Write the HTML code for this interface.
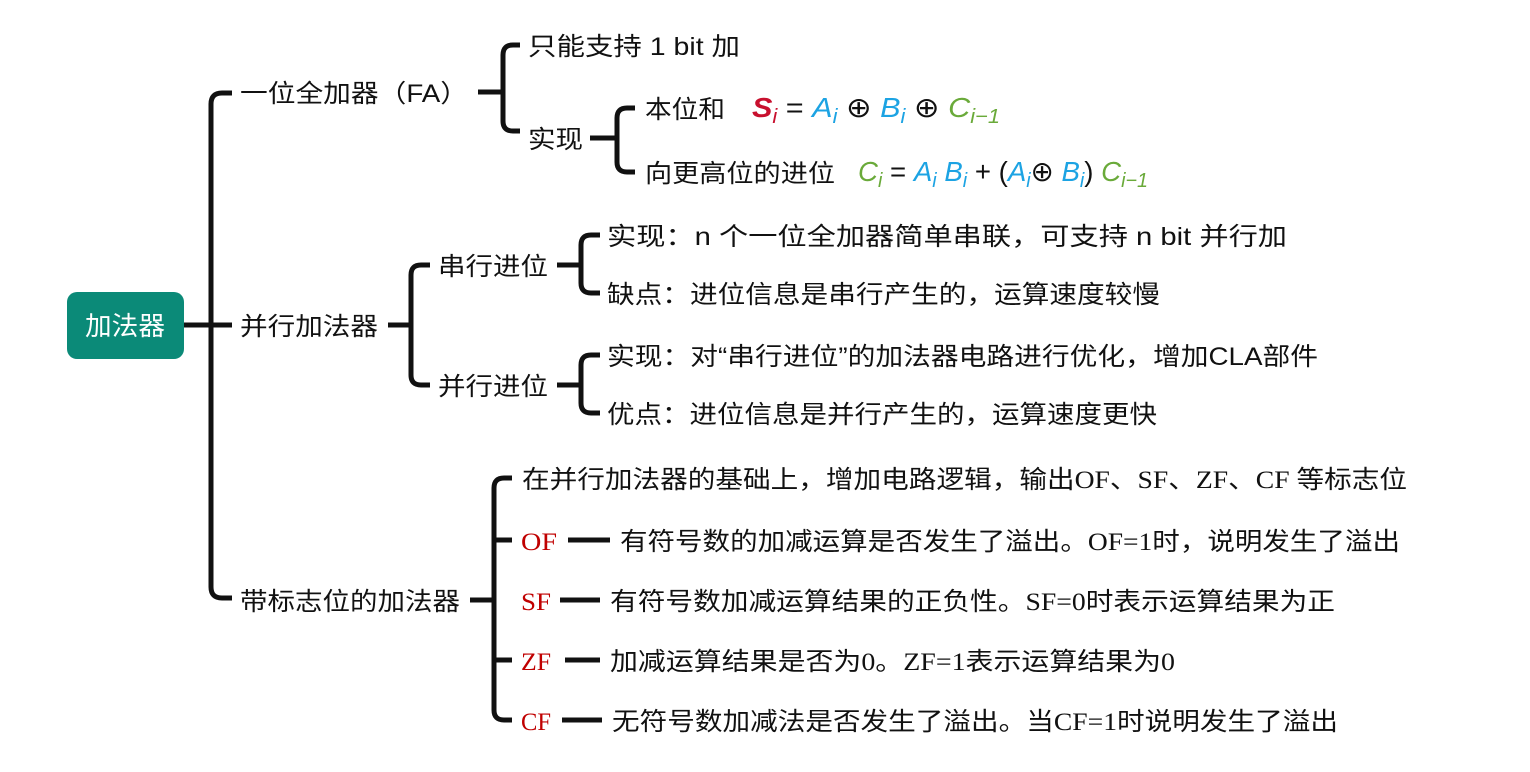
<!DOCTYPE html>
<html><head><meta charset="utf-8"><style>
html,body{margin:0;padding:0;background:#fff;width:1530px;height:772px;overflow:hidden}
svg{display:block}
text{font-family:"Liberation Serif","Noto Sans CJK SC",sans-serif;font-size:25px;fill:#111}
.c{font-family:"Liberation Sans","Noto Sans CJK SC",sans-serif}
.r{fill:#c00000}
.f{font-family:"Liberation Sans","DejaVu Sans",sans-serif;font-style:italic;font-size:28px}
.b{fill:#1ca3e3}.g{fill:#6aaa3a}.rd{fill:#c8102e}
</style></head><body>
<svg width="1530" height="772" viewBox="0 0 1530 772" xmlns="http://www.w3.org/2000/svg">
<g fill="none" stroke="#111" stroke-width="5" stroke-linecap="butt">
<path d="M184 325 H232"/>
<path d="M232 93 H222 Q211 93 211 104 V587 Q211 598 222 598 H232"/>
<path d="M478 92 H503"/>
<path d="M520 45 H513 Q503 45 503 55 V121 Q503 131 513 131 H520"/>
<path d="M590 138 H617"/>
<path d="M635 108 H627 Q617 108 617 118 V162 Q617 172 627 172 H635"/>
<path d="M388 325 H411"/>
<path d="M430 265 H421 Q411 265 411 275 V375 Q411 385 421 385 H430"/>
<path d="M557 265 H581"/>
<path d="M600 235 H591 Q581 235 581 245 V283 Q581 293 591 293 H600"/>
<path d="M557 385 H581"/>
<path d="M600 355 H591 Q581 355 581 365 V403 Q581 413 591 413 H600"/>
<path d="M470 600 H494"/>
<path d="M512 478 H504 Q494 478 494 488 V710 Q494 720 504 720 H512"/>
<path d="M494 540 H512"/>
<path d="M494 660 H512"/>
<path d="M568 540 H610"/><path d="M560 600 H600"/><path d="M565 660 H600"/><path d="M562 720 H602"/>
</g>
<rect x="67" y="292" width="117" height="67" rx="10" fill="#0b8a78"/>
<text class="c" x="85" y="335" style="fill:#fff;font-size:26px" textLength="80" lengthAdjust="spacingAndGlyphs">加法器</text>

<text class="c" x="240" y="102" textLength="228" lengthAdjust="spacingAndGlyphs">一位全加器（FA）</text>
<text class="c" x="240" y="335" textLength="138" lengthAdjust="spacingAndGlyphs">并行加法器</text>
<text class="c" x="240" y="610" textLength="220" lengthAdjust="spacingAndGlyphs">带标志位的加法器</text>

<text class="c" x="528" y="55" textLength="212" lengthAdjust="spacingAndGlyphs">只能支持 1 bit 加</text>
<text class="c" x="528" y="148" textLength="55" lengthAdjust="spacingAndGlyphs">实现</text>
<text class="c" x="645" y="118" textLength="80" lengthAdjust="spacingAndGlyphs">本位和</text>
<text class="c" x="645" y="182" textLength="190" lengthAdjust="spacingAndGlyphs">向更高位的进位</text>

<text class="f" x="752" y="117" textLength="248" lengthAdjust="spacingAndGlyphs"><tspan class="rd" font-weight="bold">S</tspan><tspan class="rd" font-size="20" dy="6">i</tspan><tspan dy="-6" style="font-style:normal" fill="#111"> = </tspan><tspan class="b">A</tspan><tspan class="b" font-size="20" dy="6">i</tspan><tspan dy="-6" style="font-style:normal" fill="#111"> ⊕ </tspan><tspan class="b">B</tspan><tspan class="b" font-size="20" dy="6">i</tspan><tspan dy="-6" style="font-style:normal" fill="#111"> ⊕ </tspan><tspan class="g">C</tspan><tspan class="g" font-size="20" dy="6">i−1</tspan></text>
<text class="f" x="858" y="181" textLength="290" lengthAdjust="spacingAndGlyphs"><tspan class="g">C</tspan><tspan class="g" font-size="20" dy="6">i</tspan><tspan dy="-6" style="font-style:normal" fill="#111"> = </tspan><tspan class="b">A</tspan><tspan class="b" font-size="20" dy="6">i</tspan><tspan dy="-6"> </tspan><tspan class="b">B</tspan><tspan class="b" font-size="20" dy="6">i</tspan><tspan dy="-6" style="font-style:normal" fill="#111"> + (</tspan><tspan class="b">A</tspan><tspan class="b" font-size="20" dy="6">i</tspan><tspan dy="-6" style="font-style:normal" fill="#111">⊕ </tspan><tspan class="b">B</tspan><tspan class="b" font-size="20" dy="6">i</tspan><tspan dy="-6" style="font-style:normal" fill="#111">) </tspan><tspan class="g">C</tspan><tspan class="g" font-size="20" dy="6">i−1</tspan></text>

<text class="c" x="438" y="275" textLength="110" lengthAdjust="spacingAndGlyphs">串行进位</text>
<text class="c" x="438" y="395" textLength="110" lengthAdjust="spacingAndGlyphs">并行进位</text>
<text class="c" x="607" y="245" textLength="680" lengthAdjust="spacingAndGlyphs">实现：n 个一位全加器简单串联，可支持 n bit 并行加</text>
<text class="c" x="607" y="303" textLength="553" lengthAdjust="spacingAndGlyphs">缺点：进位信息是串行产生的，运算速度较慢</text>
<text class="c" x="607" y="365" textLength="711" lengthAdjust="spacingAndGlyphs">实现：对“串行进位”的加法器电路进行优化，增加CLA部件</text>
<text class="c" x="607" y="423" textLength="550" lengthAdjust="spacingAndGlyphs">优点：进位信息是并行产生的，运算速度更快</text>

<text x="522" y="488" textLength="885" lengthAdjust="spacingAndGlyphs">在并行加法器的基础上，增加电路逻辑，输出OF、SF、ZF、CF 等标志位</text>
<text class="r" x="521" y="550" textLength="36" lengthAdjust="spacingAndGlyphs">OF</text>
<text class="r" x="521" y="610" textLength="30" lengthAdjust="spacingAndGlyphs">SF</text>
<text class="r" x="521" y="670" textLength="30" lengthAdjust="spacingAndGlyphs">ZF</text>
<text class="r" x="521" y="730" textLength="30" lengthAdjust="spacingAndGlyphs">CF</text>
<text x="620" y="550" textLength="780" lengthAdjust="spacingAndGlyphs">有符号数的加减运算是否发生了溢出。OF=1时，说明发生了溢出</text>
<text x="610" y="610" textLength="725" lengthAdjust="spacingAndGlyphs">有符号数加减运算结果的正负性。SF=0时表示运算结果为正</text>
<text x="610" y="670" textLength="565" lengthAdjust="spacingAndGlyphs">加减运算结果是否为0。ZF=1表示运算结果为0</text>
<text x="612" y="730" textLength="726" lengthAdjust="spacingAndGlyphs">无符号数加减法是否发生了溢出。当CF=1时说明发生了溢出</text>
</svg>
</body></html>
